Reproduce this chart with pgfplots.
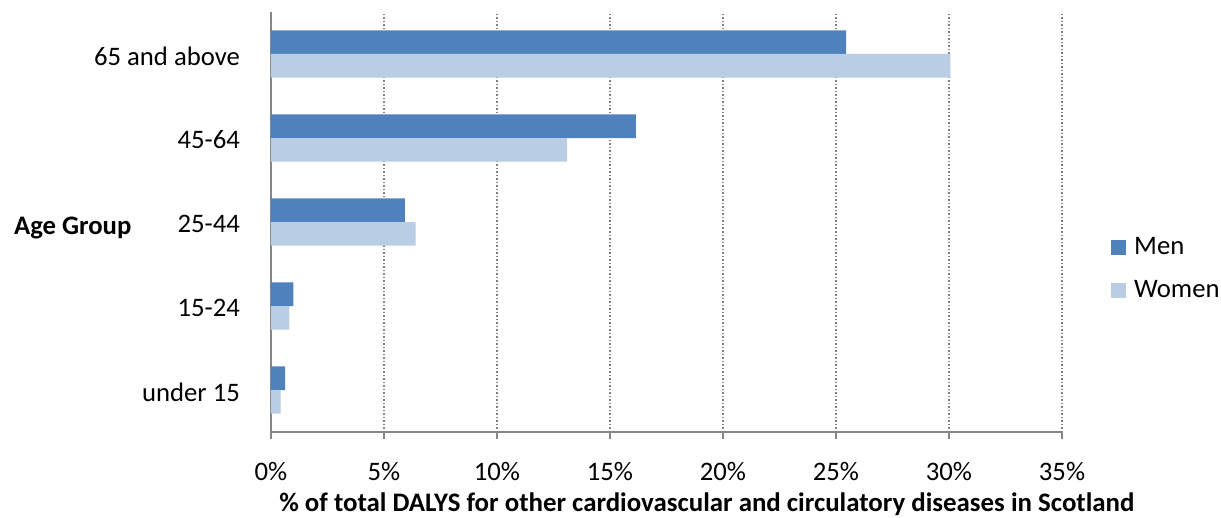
\documentclass[border=0pt]{standalone}
\usepackage{fontspec}
\setmainfont{Carlito}
\usepackage{graphicx}
\usepackage{pgfplots}
\pgfplotsset{compat=1.18}
\definecolor{men}{HTML}{4F81BD}
\definecolor{women}{HTML}{B9CDE5}
\definecolor{axgray}{HTML}{868686}
\definecolor{gridgray}{HTML}{808080}
\begin{document}
\fontsize{26.7}{32}\selectfont
\begin{tikzpicture}
\useasboundingbox (-271pt,-85pt) rectangle (950pt,432pt);
\begin{axis}[
  at={(0,0)}, anchor=south west,
  scale only axis, width=791pt, height=420pt,
  xbar, bar width=0.28,
  xmin=0, xmax=35, ymin=-0.5, ymax=4.5,
  xtick={0,5,10,15,20,25,30,35},
  xticklabels={0\%,5\%,10\%,15\%,20\%,25\%,30\%,35\%},
  ytick={0,1,2,3,4},
  yticklabels={under 15,15-24,25-44,45-64,65 and above},
  axis x line*=bottom, axis y line*=left,
  axis line style={axgray, line width=2pt, -},
  xmajorgrids, major grid style={gridgray, line width=1.5pt, dotted},
  tick align=outside, major tick length=7pt,
  xtick style={axgray, line width=2pt},
  ytick style={draw=none},
  xticklabel style={yshift=-14pt},
  yticklabel style={xshift=-15pt, yshift=-2pt},
  ylabel={\textbf{Age Group}},
  ylabel style={rotate=-90, anchor=west, inner sep=0pt, at={(axis description cs:-0.325,0.485)}},
  xlabel={\resizebox{855pt}{\height}{\textbf{\% of total DALYS for other cardiovascular and circulatory diseases in Scotland}}},
  xlabel style={anchor=center, inner sep=0pt, at={(axis description cs:0.551,-0.171)}},
  legend style={at={(axis description cs:1.062,0.388)}, anchor=west, draw=none, fill=none, inner sep=0pt, row sep=18pt,
    /tikz/every odd column/.append style={column sep=6pt}},
  legend cell align=left,
  legend image code/.code={\fill[#1] (0pt,-7.5pt) rectangle (15pt,7.5pt);},
]
\addplot[fill=men, draw=none, bar shift=0.14] coordinates {(0.63,0) (0.99,1) (5.92,2) (16.15,3) (25.45,4)};
\addplot[fill=women, draw=none, bar shift=-0.14] coordinates {(0.43,0) (0.81,1) (6.40,2) (13.10,3) (30.06,4)};
\legend{Men,Women}
\end{axis}
\end{tikzpicture}
\end{document}
